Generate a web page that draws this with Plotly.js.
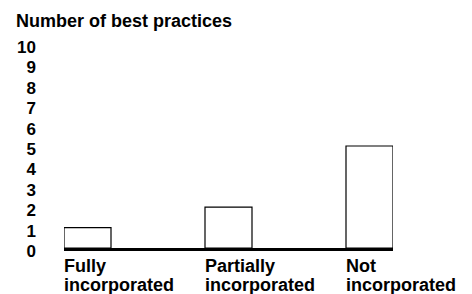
<!DOCTYPE html>
<html><head><meta charset="utf-8">
<script src="https://cdn.plot.ly/plotly-3.0.1.min.js"></script>
<style>html,body{margin:0;padding:0;background:#fff}</style>
</head><body><div id="chart" style="width:472px;height:294px"></div>
<script>
var categories = ["Fully<br>incorporated", "Partially<br>incorporated", "Not<br>incorporated"];
var values = [1, 2, 5];
var yTicks = [0,1,2,3,4,5,6,7,8,9,10];
var yTickText = ["0","1","2","3","4","5","6","7","8","9","10"];
var barWidth = 1/3;
var xpos = categories.map(function(c,i){return i;});
var fam = "Liberation Sans, Arial, sans-serif";
var font = {family: fam, size: 18, color: "#000"};
var tickFont = {family: fam, size: 17, color: "#000"};
var annotations = [];
categories.forEach(function(c,i){
  c.split("<br>").forEach(function(line, j){
    annotations.push({x: xpos[i] - barWidth/2, y: 0, xref: "x", yref: "y", text: "<b>"+line+"</b>",
      showarrow: false, xanchor: "left", yanchor: "top", align: "left", yshift: -5.5 - 19.5*j, xshift: -2, font: font});
  });
});
Plotly.newPlot("chart", [{
  type: "bar", x: xpos, y: values, width: barWidth,
  marker: {color: "#fff", line: {color: "#000", width: 1.2}}
}], {
  width: 472, height: 294,
  margin: {l: 64, r: 79, t: 44, b: 46},
  paper_bgcolor: "#fff", plot_bgcolor: "#fff",
  showlegend: false,
  title: {text: "<b>Number of best practices</b>", font: font, x: 16/472, xanchor: "left", xref: "container", y: 1 - 21/294, yanchor: "middle", yref: "container"},
  xaxis: {range: [-barWidth/2, 2 + barWidth/2], showticklabels: false, ticks: "", showgrid: false, zeroline: false,
    showline: true, linecolor: "#000", linewidth: 3, fixedrange: true},
  yaxis: {range: [0, 10], tickmode: "array", tickvals: yTicks, ticktext: yTickText.map(function(t){return "<b>"+t+"</b>";}),
    showgrid: false, zeroline: false, showline: false, ticks: "", tickfont: tickFont, ticklabelstandoff: 27, ticklabelshift: 3},
  annotations: annotations
}, {displayModeBar: false, staticPlot: true});
</script></body></html>
